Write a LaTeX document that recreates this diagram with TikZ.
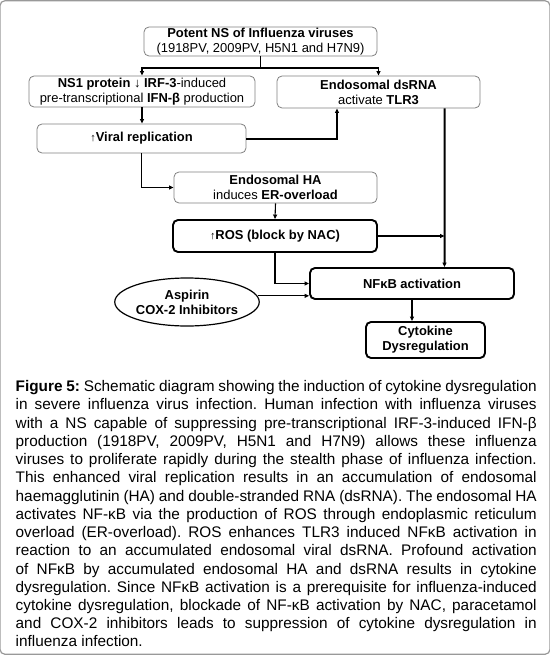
\documentclass[tikz,border=0pt]{standalone}
\usepackage{fontspec}
\setmainfont{Liberation Sans}
\usetikzlibrary{arrows.meta,shapes.geometric}
\frenchspacing
\begin{document}
\begin{tikzpicture}[x=1bp,y=-1bp,
  boxfont/.style={font=\fontsize{13}{15}\selectfont},
  softbox/.style={boxfont, draw=black!50, line width=0.8bp, rounded corners=5bp, align=center, inner sep=0pt},
  hardbox/.style={boxfont, draw=black, line width=1.9bp, rounded corners=5bp, align=center, inner sep=0pt},
  ellbox/.style={boxfont, ellipse, draw=black, line width=1.2bp, align=center, inner sep=0pt},
  tip/.style={-{Triangle[length=4.5bp,width=4bp]}},
  conn/.style={line width=1.1bp},
  midconn/.style={line width=1.5bp},
  thickconn/.style={line width=2bp},
  captext/.style={font=\fontsize{15.4}{18.3}\selectfont\frenchspacing, text width=521bp, align=justify, inner sep=0pt, anchor=north west}
]
\useasboundingbox (0,0) rectangle (550,659);
\draw[black!40, line width=1.2bp, rounded corners=5bp] (0,0.7) rectangle (550,654.3);

\node[softbox, minimum width=233bp, minimum height=29bp] (top) at (260.5,41.5)
  {\textbf{Potent NS of Influenza viruses}\\(1918PV, 2009PV, H5N1 and H7N9)};
\node[softbox, minimum width=226bp, minimum height=31bp] (ns1) at (142,91.5)
  {\textbf{NS1 protein} ↓ \textbf{IRF-3}-induced\\pre-transcriptional \textbf{IFN-β} production};
\node[softbox, minimum width=203bp, minimum height=32bp] (dsrna) at (378.5,92)
  {\textbf{Endosomal dsRNA}\\activate \textbf{TLR3}};
\node[softbox, minimum width=209bp, minimum height=29bp] (viral) at (141.5,138.5)
  {{\fontsize{11}{13}\selectfont ↑}\textbf{Viral replication}};
\node[softbox, minimum width=203bp, minimum height=31bp] (ha) at (275.5,187.5)
  {\textbf{Endosomal HA}\\induces \textbf{ER-overload}};
\node[hardbox, minimum width=204bp, minimum height=32bp] (ros) at (275,236)
  {{\fontsize{11}{13}\selectfont ↑}\textbf{ROS (block by NAC)}};
\node[hardbox, minimum width=204bp, minimum height=31bp] (nfkb) at (412,283.5)
  {\textbf{NFκB activation}};
\node[ellbox, minimum width=120bp, minimum height=48bp] (ell) at (187,302)
  {\textbf{Aspirin}\\\textbf{COX-2 Inhibitors}};
\node[hardbox, minimum width=119bp, minimum height=36bp] (cyto) at (425.5,340)
  {\textbf{Cytokine}\\\textbf{Dysregulation}};

\coordinate (split) at (260.5,68);
\coordinate (m) at (444.5,236);

\draw[conn] (top.south) -- (split);
\draw[conn,tip] (split) -| (ns1.north);
\draw[conn,tip] (split) -| (dsrna.north);
\draw[conn,tip] (ns1.south) -- (ns1.south |- viral.north);
\draw[thickconn,tip] (viral.east) -| ([xshift=-41.5bp]dsrna.south);
\draw[conn,tip] (viral.south) |- (ha.west);
\draw[thickconn,tip] ([xshift=66bp]dsrna.south) -- ([xshift=32.5bp]nfkb.north);
\draw[conn,tip] (ha.south) -- (ros.north);
\draw[midconn,tip] (ros.east) -- (m);
\draw[midconn,tip] (ros.south) |- (nfkb.west);
\draw[conn,tip] (ell.5) -- (ell.5 -| nfkb.west);
\draw[conn,tip] (nfkb.south) -- (nfkb.south |- cyto.north);

\node[captext] (cap) at (15.5,380.4) {%
\textbf{Figure 5:} Schematic diagram showing the induction of cytokine dysregulation\linebreak
in severe influenza virus infection. Human infection with influenza viruses\linebreak
with a NS capable of suppressing pre-transcriptional IRF-3-induced IFN-β\linebreak
production (1918PV, 2009PV, H5N1 and H7N9) allows these influenza\linebreak
viruses to proliferate rapidly during the stealth phase of influenza infection.\linebreak
This enhanced viral replication results in an accumulation of endosomal\linebreak
haemagglutinin (HA) and double-stranded RNA (dsRNA). The endosomal HA\linebreak
activates NF-κB via the production of ROS through endoplasmic reticulum\linebreak
overload (ER-overload). ROS enhances TLR3 induced NFκB activation in\linebreak
reaction to an accumulated endosomal viral dsRNA. Profound activation\linebreak
of NFκB by accumulated endosomal HA and dsRNA results in cytokine\linebreak
dysregulation. Since NFκB activation is a prerequisite for influenza-induced\linebreak
cytokine dysregulation, blockade of NF-κB activation by NAC, paracetamol\linebreak
and COX-2 inhibitors leads to suppression of cytokine dysregulation in\linebreak
influenza infection.};
\end{tikzpicture}
\end{document}
